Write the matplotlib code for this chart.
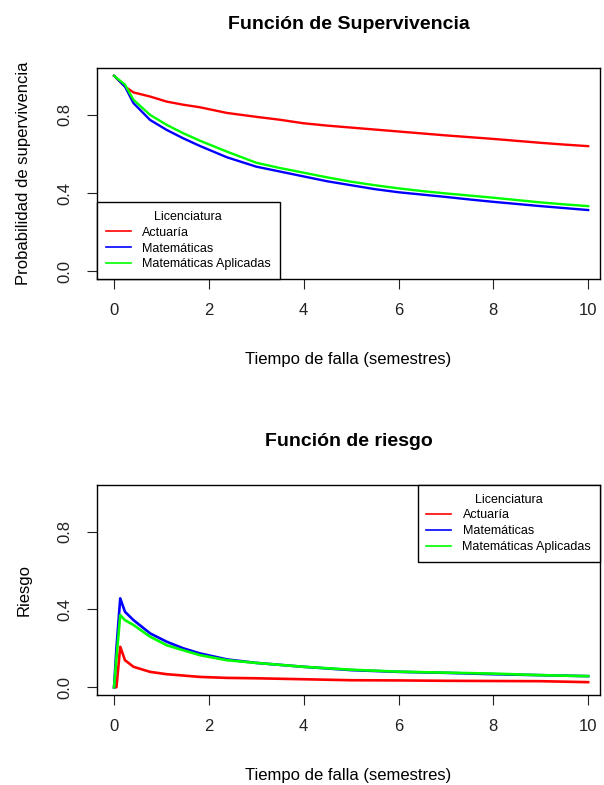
import matplotlib.pyplot as plt

plt.rcParams['font.family'] = ['Liberation Sans', 'DejaVu Sans']

grupos = ['Actuaría', 'Matemáticas', 'Matemáticas Aplicadas']
colores = ['#ff0000', '#0000ff', '#00ff00']

# supervivencia (Kaplan-Meier)
t_surv = [0, 0.02, 0.23, 0.41, 0.76, 1.11, 1.46, 1.81, 2.38, 3, 3.5, 4, 4.5, 5, 5.5, 6, 6.5, 7, 7.5, 8, 8.5, 9, 9.5, 10]
surv_act = [1.0, 0.996, 0.945, 0.915, 0.894, 0.868, 0.852, 0.839, 0.81, 0.79, 0.775, 0.757, 0.745, 0.735, 0.725, 0.715, 0.705, 0.695, 0.686, 0.677, 0.667, 0.657, 0.648, 0.64]
surv_mat = [1.0, 0.996, 0.945, 0.86, 0.774, 0.723, 0.68, 0.641, 0.583, 0.535, 0.51, 0.485, 0.46, 0.44, 0.42, 0.404, 0.392, 0.38, 0.367, 0.355, 0.344, 0.333, 0.323, 0.313]
surv_apl = [1.0, 0.996, 0.955, 0.877, 0.80, 0.749, 0.706, 0.668, 0.612, 0.555, 0.528, 0.504, 0.48, 0.458, 0.44, 0.424, 0.41, 0.398, 0.387, 0.376, 0.364, 0.352, 0.342, 0.333]

# riesgo
t_haz = [0, 0.05, 0.13, 0.23, 0.41, 0.76, 1.11, 1.46, 1.81, 2.38, 3, 4, 5, 6, 7, 8, 9, 10]
haz_act = [0.0, 0.0, 0.208, 0.139, 0.105, 0.079, 0.067, 0.06, 0.053, 0.048, 0.046, 0.041, 0.036, 0.035, 0.033, 0.032, 0.031, 0.026]
haz_mat = [0.0, 0.2, 0.457, 0.388, 0.345, 0.277, 0.234, 0.2, 0.174, 0.143, 0.125, 0.105, 0.088, 0.079, 0.074, 0.067, 0.062, 0.057]
haz_apl = [0.0, 0.15, 0.371, 0.345, 0.32, 0.26, 0.216, 0.19, 0.165, 0.139, 0.125, 0.105, 0.09, 0.08, 0.075, 0.07, 0.062, 0.057]

ticks_x = [0, 2, 4, 6, 8, 10]
ticks_y = [0.0, 0.4, 0.8]

W, H = 604, 785
fig = plt.figure(figsize=(W / 100, H / 100), dpi=100)


def ejes(top, bottom):
    ax = fig.add_axes([97 / W, (H - bottom) / H, 503 / W, (bottom - top) / H])
    ax.set_xlim(-0.36, 10.25)
    ax.set_ylim(-0.04, 1.04)
    ax.set_xticks(ticks_x)
    ax.set_xticklabels([str(v) for v in ticks_x])
    ax.set_yticks(ticks_y)
    ax.set_yticklabels(['%.1f' % v for v in ticks_y], rotation=90, va='center')
    ax.tick_params(length=7.5, width=0.8, labelsize=12, pad=10, colors='#222222')
    for s in ax.spines.values():
        s.set_linewidth(1.0)
    return ax


def leyenda(ax, loc):
    leg = ax.legend(title='Licenciatura', loc=loc, fontsize=9, title_fontsize=9,
                    frameon=True, fancybox=False, edgecolor='black', framealpha=1,
                    borderaxespad=0, handlelength=2.0, handletextpad=0.9,
                    labelspacing=0.3, borderpad=0.7)
    leg.get_frame().set_linewidth(1.0)
    for ln in leg.get_lines():
        ln.set_linewidth(1.2)
    return leg


ax1 = ejes(68, 279)
for y, c, g in zip([surv_act, surv_mat, surv_apl], colores, grupos):
    ax1.plot(t_surv, y, color=c, lw=1.7, label=g)
ax1.set_title('Función de Supervivencia', fontsize=14, fontweight='bold', pad=28)
ax1.set_xlabel('Tiempo de falla (semestres)', fontsize=12, labelpad=24)
ax1.set_ylabel('Probabilidad de supervivencia', fontsize=12, labelpad=19)
leyenda(ax1, 'lower left')

ax2 = ejes(485, 695)
for y, c, g in zip([haz_act, haz_mat, haz_apl], colores, grupos):
    ax2.plot(t_haz, y, color=c, lw=1.9, label=g)
ax2.set_title('Función de riesgo', fontsize=14, fontweight='bold', pad=28)
ax2.set_xlabel('Tiempo de falla (semestres)', fontsize=12, labelpad=24)
ax2.set_ylabel('Riesgo', fontsize=12, labelpad=19)
leyenda(ax2, 'upper right')

fig.savefig('out.png', dpi=100)
